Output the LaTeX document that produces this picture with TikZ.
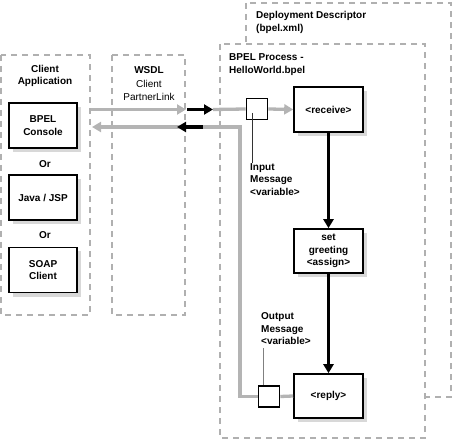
\documentclass[tikz,border=0pt]{standalone}
\usepackage{fontspec}
\setmainfont{Liberation Sans}
\usetikzlibrary{arrows.meta}
\definecolor{dashgray}{HTML}{B0B0B0}
\definecolor{linegray}{HTML}{B4B4B4}
\definecolor{shadowgray}{HTML}{D8D8D8}
\begin{document}
\begin{tikzpicture}[x=1pt,y=-1pt,
  frame/.style={draw=dashgray,line width=2.8pt,dash pattern=on 6pt off 5pt},
  framefill/.style={frame,fill=white},
  act/.style={draw,line width=1.6pt,fill=white,minimum width=68pt,minimum height=45pt,
    font=\fontsize{10}{12.5}\selectfont\bfseries,align=center,inner sep=1pt},
  shd/.style={fill=shadowgray},
  sqr/.style={draw,line width=1.6pt,fill=white,minimum size=21pt,inner sep=0pt},
  lbl/.style={font=\fontsize{10}{12.5}\selectfont\bfseries,align=left,inner sep=0pt},
  clbl/.style={font=\fontsize{10}{12.5}\selectfont\bfseries,align=center,inner sep=0pt},
  gline/.style={draw=linegray,line width=3.3pt},
  garrow/.style={gline,-{Triangle[length=9pt,width=10pt]}},
  barrow/.style={draw=black,line width=3.2pt,-{Triangle[length=9pt,width=10pt]}}
  ]
\useasboundingbox (0,0) rectangle (453,441);
% frames
\draw[frame] (1,55) rectangle (90,315);
\draw[frame] (112,55) rectangle (185,315);
\draw[frame] (246,3) rectangle (451,397);
\draw[framefill] (220,44) rectangle (425,438);
% shadows
\fill[shd] (13,107) rectangle (81,152);
\fill[shd] (13,179) rectangle (81,224);
\fill[shd] (13,251.5) rectangle (81,296.5);
\fill[shd] (298,91) rectangle (367,136);
\fill[shd] (298,233) rectangle (367,277);
\fill[shd] (298,378) rectangle (367,422);
% labels
\node[clbl] (calbl) at (45,76) {Client\\Application};
\node[clbl] (wsdl) at (149,70) {WSDL};
\node[clbl,font=\fontsize{10}{12.5}\selectfont] (pl) at (149,90.5) {Client\\PartnerLink};
\node[lbl,anchor=west] (bpel) at (229,64.5) {BPEL Process -\\HelloWorld.bpel};
\node[lbl,anchor=west] (dd) at (256,22.5) {Deployment Descriptor\\(bpel.xml)};
% client nodes
\node[act] (bc) at (43,125.5) {BPEL\\Console};
\node[clbl] (or1) at (45,164) {Or};
\node[act] (js) at (43,197.5) {Java / JSP};
\node[clbl] (or2) at (45,235) {Or};
\node[act] (sc) at (43,270) {SOAP\\Client};
% process nodes
\node[act,minimum width=69pt] (rcv) at (328.5,109.5) {\textless receive\textgreater};
\node[act,minimum width=69pt,minimum height=44pt] (set) at (328.5,251) {set\\greeting\\\textless assign\textgreater};
\node[act,minimum width=69pt,minimum height=44pt] (rep) at (328.5,396) {\textless reply\textgreater};
% coordinates
\coordinate (a0) at (91,109.5);
\coordinate (a1) at (186,109.5);
\coordinate (a2) at (187,109.5);
\coordinate (a3) at (213,109.5);
\coordinate (b0) at (240,127);
\coordinate (b1) at (203,127);
\coordinate (b2) at (177,127);
\coordinate (b3) at (185,127);
\coordinate (b4) at (92,127);
\coordinate (rc) at (240,396.5);
% squares
\node[sqr] (sq1) at (257,109) {};
\node[sqr] (sq2) at (269,396.5) {};
% top row
\draw[garrow] (a0) -- (a1);
\draw[gline] (a3) -- (sq1.west);
\draw[barrow] (a2) -- (a3);
\draw[garrow] (sq1.east) -- (rcv.west);
% return path
\draw[gline] (rep.west) -- (sq2.east);
\draw[gline] (sq2.west) -- (rc) -- (b0) -- (b1);
\draw[garrow] (b3) -- (b4);
\draw[barrow] (b1) -- (b2);
\node[sqr] at (sq1) {};
\node[sqr] at (sq2) {};
% vertical flow
\draw[barrow] (rcv.south) -- (set.north);
\draw[barrow] (set.south) -- (rep.north);
% message labels
\node[lbl,anchor=west] (inmsg) at (250,179.5) {Input\\Message\\\textless variable\textgreater};
\node[lbl,anchor=west] (outmsg) at (261,329) {Output\\Message\\\textless variable\textgreater};
\draw[line width=0.7pt,draw=black!80] (252,113) -- (inmsg.north west -| 252,0);
\draw[line width=0.7pt,draw=black!50] (outmsg.south west -| 263,0) ++(0,3) -- (sq2.north -| 263,0);
\end{tikzpicture}
\end{document}
